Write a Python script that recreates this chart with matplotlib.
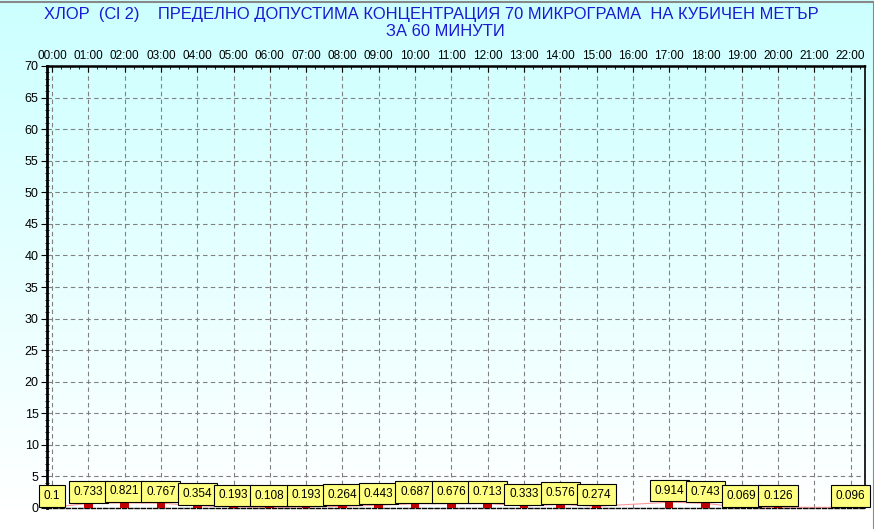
import numpy as np
import matplotlib
matplotlib.use("Agg")
import matplotlib.pyplot as plt
from matplotlib.ticker import MultipleLocator
from matplotlib import font_manager

# hourly chlorine values, hours 16 and 21 have no data
hours = [0, 1, 2, 3, 4, 5, 6, 7, 8, 9, 10, 11, 12, 13, 14, 15, 17, 18, 19, 20, 22]
values = [0.1, 0.733, 0.821, 0.767, 0.354, 0.193, 0.108, 0.193, 0.264, 0.443,
          0.687, 0.676, 0.713, 0.333, 0.576, 0.274, 0.914, 0.743, 0.069, 0.126, 0.096]
value_labels = ["0.1", "0.733", "0.821", "0.767", "0.354", "0.193", "0.108", "0.193", "0.264",
                "0.443", "0.687", "0.676", "0.713", "0.333", "0.576", "0.274", "0.914",
                "0.743", "0.069", "0.126", "0.096"]
hour_labels = ["%02d:00" % h for h in range(23)]
title_1 = "ХЛОР  (Cl 2)    ПРЕДЕЛНО ДОПУСТИМА КОНЦЕНТРАЦИЯ 70 МИКРОГРАМА  НА КУБИЧЕН МЕТЪР"
title_2 = "ЗА 60 МИНУТИ"

names = {f.name for f in font_manager.fontManager.ttflist}
narrow = "Liberation Sans Narrow" if "Liberation Sans Narrow" in names else "Liberation Sans"
plt.rcParams['font.family'] = [narrow, 'DejaVu Sans']

W, H = 874, 529
fig = plt.figure(figsize=(W / 100, H / 100), dpi=100)

# background gradient: light cyan at top fading to white at bottom
bg = fig.add_axes([0, 0, 1, 1], zorder=-10)
rows = np.linspace(0, 1, 256)
frac = np.clip(rows / (510 / H), 0, 1)
img = np.zeros((256, 1, 3))
img[:, 0, 0] = 0.80 + 0.20 * frac
img[:, 0, 1] = 1.0
img[:, 0, 2] = 1.0
bg.imshow(img, aspect='auto', extent=[0, 1, 1, 0], interpolation='bilinear')
bg.plot([0, 1, 1], [1 - 2 / H, 1 - 2 / H, 0], color='#888888', lw=1.5,
        transform=bg.transAxes)
bg.set_xlim(0, 1)
bg.set_ylim(1, 0)
bg.axis('off')

left, right, top, bottom = 47, 865, 66, 508
ax = fig.add_axes([left / W, 1 - bottom / H, (right - left) / W, (bottom - top) / H])
ax.set_facecolor('none')

x0 = (left - 52) / 36.3
x1 = (right - 52) / 36.3
ax.set_xlim(x0, x1)
ax.set_ylim(0, 70)

# thin line and small bars
ax.plot(hours, values, color='#ff9999', lw=0.8, zorder=2)
ax.bar(hours, values, width=0.24, color='#c00000', zorder=3)

for h, v, lab in zip(hours, values, value_labels):
    ax.annotate(lab, xy=(h, v), xytext=(0, 4.0), textcoords='offset points',
                ha='center', va='bottom', fontsize=8.5, color='black', zorder=5,
                bbox=dict(boxstyle='square,pad=0.4', fc='#ffff80', ec='black', lw=0.8))

ax.xaxis.tick_top()
ax.set_xticks(range(23))
ax.set_xticklabels(hour_labels, fontsize=8.5)
ax.xaxis.set_minor_locator(MultipleLocator(0.25))
ax.tick_params(axis='x', which='major', direction='in', length=4, pad=3)
ax.tick_params(axis='x', which='minor', direction='in', length=2)

ax.yaxis.set_major_locator(MultipleLocator(5))
ax.yaxis.set_minor_locator(MultipleLocator(1))
ax.tick_params(axis='y', which='major', direction='out', length=4, labelsize=9, pad=2)
ax.tick_params(axis='y', which='minor', direction='inout', length=3)

ax.grid(True, which='major', color='#808080', linestyle=(0, (4, 3)), lw=0.8)

ax.spines['left'].set_linewidth(2)
ax.spines['right'].set_linewidth(1.2)
ax.spines['top'].set_linewidth(1.8)
ax.spines['top'].set_linestyle((0, (3, 1)))
ax.spines['bottom'].set_linewidth(1)
ax.spines['bottom'].set_linestyle((0, (3, 1.5)))

fig.text(431 / W, 1 - 15 / H, title_1, ha='center', va='center', fontsize=11.9, color='#1a1ad0')
fig.text(445 / W, 1 - 32 / H, title_2, ha='center', va='center', fontsize=11.9, color='#1a1ad0')

fig.savefig("out.png", dpi=100)
